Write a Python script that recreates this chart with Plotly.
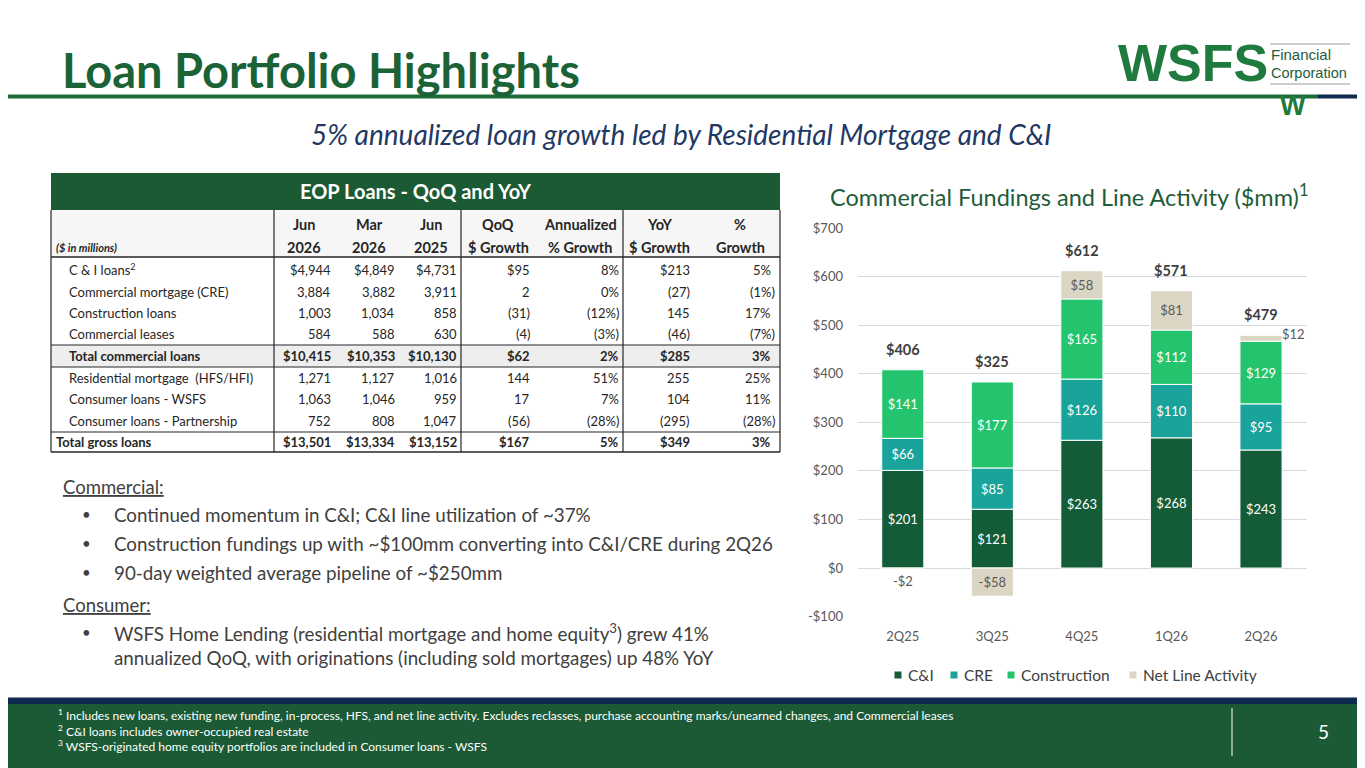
import plotly.graph_objects as go

W, H = 1365, 768
OFF = 8  # the page body adds an 8px margin around the figure
FONT = "Lato"

# ---- chart data ($mm) ----
quarters = ["2Q25", "3Q25", "4Q25", "1Q26", "2Q26"]
ci_fund = [201, 121, 263, 268, 243]
cre_fund = [66, 85, 126, 110, 95]
constr_fund = [141, 177, 165, 112, 129]
net_line = [-2, -58, 58, 81, 12]
total_fund = [406, 325, 612, 571, 479]

y_ticks = [-100, 0, 100, 200, 300, 400, 500, 600, 700]
y_tick_labels = ["-$100", "$0", "$100", "$200", "$300", "$400", "$500", "$600", "$700"]

# ---- table data ($ in millions) ----
head_top = ["Jun", "Mar", "Jun", "QoQ", "Annualized", "YoY", "%"]
head_bot = ["2026", "2026", "2025", "$ Growth", "% Growth", "$ Growth", "Growth"]
row_labels = [
    "C & I loans<sup>2</sup>",
    "Commercial mortgage (CRE)",
    "Construction loans",
    "Commercial leases",
    "Total commercial loans",
    "Residential mortgage  (HFS/HFI)",
    "Consumer loans - WSFS",
    "Consumer loans - Partnership",
    "Total gross loans",
]
jun_2026 = ["$4,944", "3,884", "1,003", "584", "$10,415", "1,271", "1,063", "752", "$13,501"]
mar_2026 = ["$4,849", "3,882", "1,034", "588", "$10,353", "1,127", "1,046", "808", "$13,334"]
jun_2025 = ["$4,731", "3,911", "858", "630", "$10,130", "1,016", "959", "1,047", "$13,152"]
qoq_dollar = ["$95", "2", "(31)", "(4)", "$62", "144", "17", "(56)", "$167"]
qoq_pct = ["8%", "0%", "(12%)", "(3%)", "2%", "51%", "7%", "(28%)", "5%"]
yoy_dollar = ["$213", "(27)", "145", "(46)", "$285", "255", "104", "(295)", "$349"]
yoy_pct = ["5%", "(1%)", "17%", "(7%)", "3%", "25%", "11%", "(28%)", "3%"]
bold_rows = [4, 8]

commercial_points = [
    "Continued momentum in C&I; C&I line utilization of ~37%",
    "Construction fundings up with ~$100mm converting into C&I/CRE during 2Q26",
    "90-day weighted average pipeline of ~$250mm",
]
consumer_points = [
    "WSFS Home Lending (residential mortgage and home equity<sup>3</sup>) grew 41%",
    "annualized QoQ, with originations (including sold mortgages) up 48% YoY",
]
footnotes = [
    "<sup>1</sup> Includes new loans, existing new funding, in-process, HFS, and net line activity. "
    "Excludes reclasses, purchase accounting marks/unearned changes, and Commercial leases",
    "<sup>2</sup> C&I loans includes owner-occupied real estate",
    "<sup>3</sup> WSFS-originated home equity portfolios are included in Consumer loans - WSFS",
]


def px(x):
    return max(0.0, (x - OFF) / W)


def py(y):
    return min(1.0, 1 - (y - OFF) / H)


def money(v):
    return f"${v}" if v >= 0 else f"-${-v}"


C_CI = "#135c37"
C_CRE = "#1aa39a"
C_CON = "#24c46e"
C_NET = "#dbd5c3"
GRAY = "#404040"

fig = go.Figure()

series = [
    ("C&I", ci_fund, C_CI),
    ("CRE", cre_fund, C_CRE),
    ("Construction", constr_fund, C_CON),
]
for name, vals, col in series:
    fig.add_trace(go.Bar(
        x=quarters, y=vals, name=name,
        marker=dict(color=col, line=dict(color="white", width=1)),
        text=[money(v) for v in vals],
        textposition="inside", insidetextanchor="middle", textangle=0,
        textfont=dict(family=FONT, size=13, color="white"),
    ))

# tiny net-line segments get their label outside the bar
net_text = [money(v) if abs(v) > 20 else "" for v in net_line]
fig.add_trace(go.Bar(
    x=quarters, y=net_line, name="Net Line Activity",
    marker=dict(color=C_NET, line=dict(color="white", width=1)),
    text=net_text,
    textposition="inside", insidetextanchor="middle", textangle=0,
    textfont=dict(family=FONT, size=13, color="#595959"),
))

annotations = []
pos_top = [a + b + c + max(d, 0) for a, b, c, d in zip(ci_fund, cre_fund, constr_fund, net_line)]
for q, top, tot in zip(quarters, pos_top, total_fund):
    annotations.append(dict(
        x=q, y=top, xref="x", yref="y", text=f"<b>{money(tot)}</b>",
        showarrow=False, yanchor="bottom", yshift=10,
        font=dict(family=FONT, size=14.5, color=GRAY),
    ))
base_top = [a + b + c for a, b, c in zip(ci_fund, cre_fund, constr_fund)]
for q, v, base in zip(quarters, net_line, base_top):
    if abs(v) > 20:
        continue
    if v < 0:
        annotations.append(dict(x=q, y=v, xref="x", yref="y", text=money(v), showarrow=False,
                                yanchor="top", yshift=-2,
                                font=dict(family=FONT, size=13, color="#595959")))
    else:
        annotations.append(dict(x=q, y=base + v / 2, xref="x", yref="y", text=money(v),
                                showarrow=False, xanchor="left", xshift=19, yshift=4,
                                font=dict(family=FONT, size=13, color="#595959")))

shapes = []


def rect(x0, y0, x1, y1, color):
    shapes.append(dict(type="rect", xref="paper", yref="paper", x0=px(x0), x1=px(x1),
                       y0=py(y1), y1=py(y0), fillcolor=color, line=dict(width=0), layer="below"))


def line(x0, y0, x1, y1, color, width=1):
    shapes.append(dict(type="line", xref="paper", yref="paper", x0=px(x0), x1=px(x1),
                       y0=py(y0), y1=py(y1), line=dict(color=color, width=width)))


def text(x, y, s, size, color=GRAY, anchor="left", bold=False, italic=False, family=FONT):
    if bold:
        s = f"<b>{s}</b>"
    if italic:
        s = f"<i>{s}</i>"
    annotations.append(dict(x=px(x), y=py(y), xref="paper", yref="paper", text=s,
                            showarrow=False, xanchor=anchor, yanchor="middle",
                            font=dict(family=family, size=size, color=color)))


# ---- title, rule and logo ----
text(60, 70, "Loan Portfolio Highlights", 47, color="#1b6236", bold=True)
rect(0, 94.5, 1318, 98.5, "#1c6b38")
rect(1318, 94.5, W + OFF, 98.5, "#0e2a4f")
text(1116, 63, "WSFS", 52, color="#1f7a3d", bold=True, family="Liberation Sans")
line(1270, 44, 1350, 44, "#9a9a9a")
line(1270, 84, 1350, 84, "#9a9a9a")
text(1269, 55, "Financial", 15, color="#1f5c3a", family="Liberation Sans")
text(1269, 73, "Corporation", 14.5, color="#1f5c3a", family="Liberation Sans")
text(1293, 106, "W", 27, color="#1f7a3d", anchor="center", bold=True, family="Liberation Sans")

text(681, 134, "5% annualized loan growth led by Residential Mortgage and C&I", 28,
     color="#1f3864", anchor="center", italic=True)

# ---- table ----
TL, TR = 51, 780
rect(TL, 173, TR, 210, "#1b5a33")
text((TL + TR) / 2, 191, "EOP Loans - QoQ and YoY", 20, color="white", anchor="center", bold=True)
rect(TL, 210, TR, 257, "#f6f6f6")
rect(TL, 345, TR, 367, "#eeeeee")

col_right = [333, 397, 459, 532, 621, 692, 777]
col_center = [304, 369, 431, 498, 580, 659, 740]
for c, top, bot in zip(col_center, head_top, head_bot):
    text(c, 224, top, 14.5, color="#262626", anchor="center", bold=True)
    text(c, 247, bot, 14.5, color="#262626", anchor="center", bold=True)
text(54, 247, "($ in millions)", 11, color="#262626", bold=True, italic=True)

columns = [jun_2026, mar_2026, jun_2025, qoq_dollar, qoq_pct, yoy_dollar, yoy_pct]
for i, lab in enumerate(row_labels):
    y = 270 + i * 21.5
    b = i in bold_rows
    text(54 if i == 8 else 67, y, lab, 13, color="#262626", bold=b)
    for j, col in enumerate(columns):
        v = col[i]
        xr = col_right[j]
        if j == 6 and not v.endswith(")"):
            xr -= 4
        text(xr, y, v, 13, color="#262626", anchor="right", bold=b)

for yy, wd in [(257, 1.6), (345, 1.2), (367, 1.2), (432, 1.2), (452, 1.4)]:
    line(TL, yy, TR, yy, "#262626", wd)
for xx in [TL, 274, 461, 623, TR]:
    line(xx, 210, xx, 452, "#262626", 1.2)

# ---- bullets ----
text(61, 487, "<u>Commercial:</u>", 18.5)
for k, s in enumerate(commercial_points):
    y = 514 + k * 29
    text(80, y, "•", 15)
    text(112, y, s, 18.8)
text(61, 605, "<u>Consumer:</u>", 18.5)
text(80, 632, "•", 15)
for k, s in enumerate(consumer_points):
    text(112, 632 + k * 25, s, 18.8)

# ---- chart title ----
text(1310, 195, "Commercial Fundings and Line Activity ($mm)<sup>1</sup>", 23.5,
     color="#1f5c3a", anchor="right")

# ---- legend (small square keys like the slide) ----
legend_x = [898, 954, 1011, 1133]
for tr, lx in zip(fig.data, legend_x):
    rect(lx - 3.5, 671.5, lx + 3.5, 678.5, tr.marker.color)
    text(lx + 8, 675, tr.name, 15.5, color=GRAY)

# ---- footer ----
rect(0, 697.5, W + OFF, 704, "#0e2a4f")
rect(0, 704, W + OFF, H + OFF, "#1b5a35")
for k, s in enumerate(footnotes):
    text(56, 715 + k * 15.5, s, 12, color="white")
line(1232, 708, 1232, 756, "white", 1)
text(1323, 731, "5", 19, color="white", anchor="center")

fig.update_layout(
    width=W, height=H,
    margin=dict(l=0, r=0, t=0, b=0),
    paper_bgcolor="white", plot_bgcolor="white",
    barmode="relative", bargap=0.53,
    font=dict(family=FONT, color=GRAY),
    xaxis=dict(domain=[px(858), px(1307)], showgrid=False, showline=False, ticks="",
               automargin=False, ticklabelstandoff=10,
               tickfont=dict(family=FONT, size=13, color="#595959"), anchor="y"),
    yaxis=dict(domain=[py(616.6), py(228)], range=[-100, 700], tickvals=y_ticks,
               ticktext=y_tick_labels, showgrid=True, gridcolor="#d9d9d9", gridwidth=1,
               zeroline=True, zerolinecolor="#d9d9d9", zerolinewidth=1, ticks="",
               automargin=False,
               tickfont=dict(family=FONT, size=13, color="#595959"), ticklabelstandoff=14),
    shapes=shapes,
    annotations=annotations,
    showlegend=False,
)

fig.write_html("out.html")
